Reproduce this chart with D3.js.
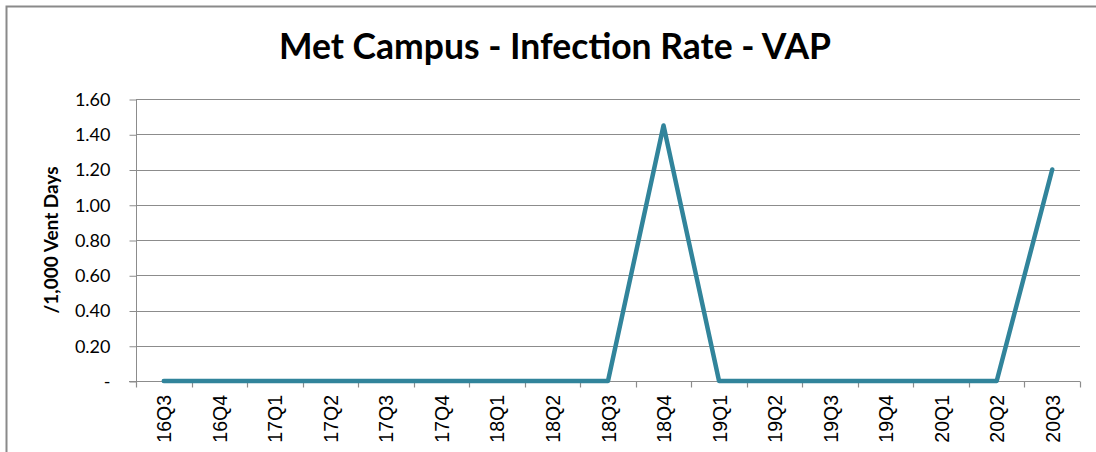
<!DOCTYPE html>
<html>
<head>
<meta charset="utf-8">
<script src="https://cdn.jsdelivr.net/npm/d3@7"></script>
<style>
  body { margin: 0; background: #fff; }
  svg { display: block; font-family: Lato, "Open Sans", sans-serif; }
  .lbl { font-family: "Liberation Sans", Arial, sans-serif; }
</style>
</head>
<body>
<svg id="chart" width="1096" height="452"></svg>
<script>
// quarters along the x axis
var quarters = ["16Q3", "16Q4", "17Q1", "17Q2", "17Q3", "17Q4", "18Q1", "18Q2", "18Q3",
  "18Q4", "19Q1", "19Q2", "19Q3", "19Q4", "20Q1", "20Q2", "20Q3"]
// VAP rate per 1,000 vent days
var rates = [0, 0, 0, 0, 0, 0, 0, 0, 0, 1.45, 0, 0, 0, 0, 0, 0, 1.20]
var yTicks = [0, 0.2, 0.4, 0.6, 0.8, 1.0, 1.2, 1.4, 1.6]

var svg = d3.select("#chart")
var plotLeft = 136, plotRight = 1080, plotTop = 99, plotBottom = 381

// outer chart frame (only top + left visible)
svg.append("path")
  .attr("d", "M6.5,452 V6.5 H1096")
  .attr("fill", "none")
  .attr("stroke", "#8a8a8a")
  .attr("stroke-width", 2)

var x = d3.scaleBand().domain(quarters).range([plotLeft, plotRight])
var y = d3.scaleLinear().domain([0, 1.6]).range([plotBottom, plotTop])

// gridlines
svg.append("g").selectAll("line")
  .data(yTicks.slice(1))
  .enter().append("line")
  .attr("x1", plotLeft).attr("x2", plotRight)
  .attr("y1", function(d) { return Math.round(y(d)) + 0.5 })
  .attr("y2", function(d) { return Math.round(y(d)) + 0.5 })
  .attr("stroke", "#8c8c8c")
  .attr("stroke-width", 1.2)

// y axis
var yAxis = svg.append("g")
  .attr("transform", "translate(" + (plotLeft + 0.5) + ",0.5)")
  .call(d3.axisLeft(y).tickValues(yTicks).tickSize(7).tickPadding(19)
    .tickFormat(function(d) { return d == 0 ? "-" : d.toFixed(2) }))
yAxis.select(".domain").attr("d", "M0," + (plotTop - 0.5) + "V" + (plotBottom + 5))
yAxis.selectAll("line").attr("stroke", "#8c8c8c")
yAxis.select(".domain").attr("stroke", "#8c8c8c")
yAxis.selectAll("text")
  .attr("font-size", 18)
  .attr("fill", "#000")
  .attr("font-family", "Lato, sans-serif")

// x axis, ticks between categories
var xAxis = svg.append("g")
  .attr("transform", "translate(0," + (plotBottom + 0.5) + ")")
xAxis.append("line")
  .attr("x1", plotLeft - 7).attr("x2", plotRight)
  .attr("stroke", "#8c8c8c").attr("stroke-width", 1.2)
xAxis.selectAll(".tk")
  .data(d3.range(quarters.length + 1))
  .enter().append("line")
  .attr("class", "tk")
  .attr("x1", function(i) { return Math.round(plotLeft + i * x.bandwidth()) + 0.5 })
  .attr("x2", function(i) { return Math.round(plotLeft + i * x.bandwidth()) + 0.5 })
  .attr("y1", 0).attr("y2", 6)
  .attr("stroke", "#8c8c8c").attr("stroke-width", 1.2)
xAxis.selectAll(".lbl")
  .data(quarters)
  .enter().append("text")
  .attr("class", "lbl")
  .attr("transform", function(d) {
    return "translate(" + (x(d) + x.bandwidth() / 2 + 7.5) + ",13.5) rotate(-90)"
  })
  .attr("text-anchor", "end")
  .attr("font-size", 19.5)
  .attr("fill", "#000")
  .text(function(d) { return d })

// the series
var line = d3.line()
  .x(function(d, i) { return x(quarters[i]) + x.bandwidth() / 2 })
  .y(function(d) { return y(d) })
svg.append("path")
  .datum(rates)
  .attr("d", line)
  .attr("fill", "none")
  .attr("stroke", "#31849b")
  .attr("stroke-width", 4.5)
  .attr("stroke-linejoin", "round")
  .attr("stroke-linecap", "round")

// title
svg.append("text")
  .attr("x", 555).attr("y", 59)
  .attr("text-anchor", "middle")
  .attr("font-size", 35.5)
  .attr("font-weight", "bold")
  .attr("fill", "#000")
  .text("Met Campus - Infection Rate - VAP")

// y axis title
svg.append("text")
  .attr("transform", "translate(58,240) rotate(-90)")
  .attr("text-anchor", "middle")
  .attr("font-size", 19)
  .attr("font-weight", "bold")
  .attr("fill", "#000")
  .text("/1,000 Vent Days")
</script>
</body>
</html>
